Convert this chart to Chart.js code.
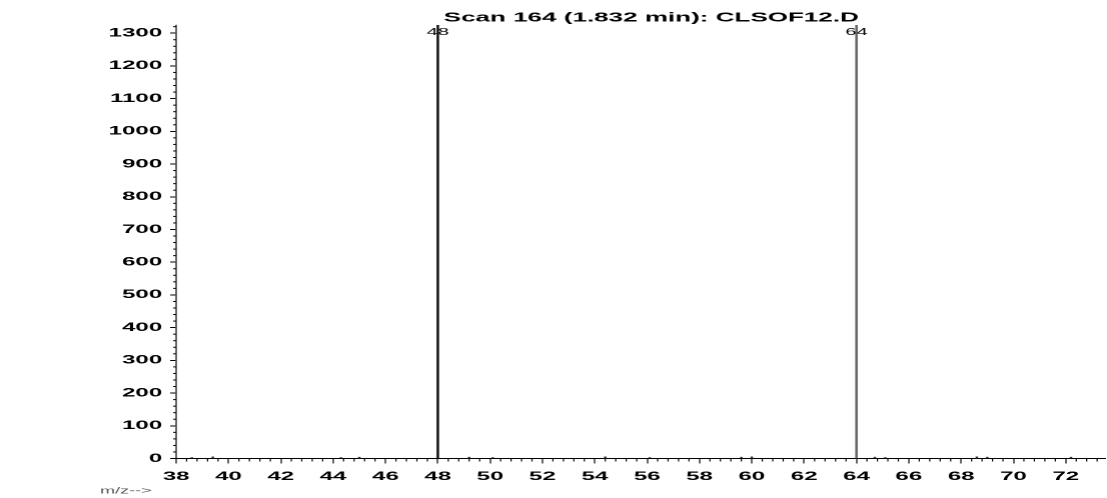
<!DOCTYPE html>
<html>
<head>
<meta charset="utf-8">
<script src="https://cdn.jsdelivr.net/npm/chart.js@4"></script>
<style>
  html, body { margin: 0; padding: 0; background: #fff; overflow: hidden; }
  /* the scanned original is stretched sideways, so draw at half width and stretch 2x */
  #wrap { position: absolute; left: 0; top: 0; width: 553.5px; height: 498px;
          transform: scaleX(2); transform-origin: 0 0; }
</style>
</head>
<body>
<div id="wrap"><canvas id="spectrum"></canvas></div>
<script>
// Scan 164 (1.832 min): CLSOF12.D
const chartTitle = 'Scan 164 (1.832 min): CLSOF12.D';
const mz        = [38.6, 39.4, 44.3, 45.0, 48, 49.2, 50.1, 54.4, 56.1, 59.6, 60.0, 64, 64.7, 65.1, 68.6, 69.0, 72.2];
const abundance = [3,    5,    3,    4,    1325, 4,  3,    5,    3,    4,    5,    1325, 4,  3,    5,    4,    4];
const barColors = mz.map((m, i) => abundance[i] > 1000 ? (m === 64 ? '#666' : '#111') : '#333');

const xMin = 38, xMax = 73.5, yMax = 1325;

const fontFam = '"Liberation Sans", Arial, sans-serif';

const extras = {
    id: 'extras',
    afterDraw(chart) {
        const ctx = chart.ctx;
        const xs = chart.scales.x, ys = chart.scales.y;
        const area = chart.chartArea;
        ctx.save();
        ctx.strokeStyle = '#000';

        // minor ticks on x (5 per 2 units)
        ctx.lineWidth = 0.6;
        for (let i = 0; ; i++) {
            const v = xMin + i * 0.4;
            if (v > xMax) break;
            if (i % 5 === 0) continue;
            const px = xs.getPixelForValue(v);
            ctx.beginPath();
            ctx.moveTo(px, area.bottom);
            ctx.lineTo(px, area.bottom + 3);
            ctx.stroke();
        }
        // minor ticks on y (every 20)
        ctx.lineWidth = 1;
        for (let v = 20; v < yMax; v += 20) {
            if (v % 100 === 0) continue;
            const py = ys.getPixelForValue(v);
            ctx.beginPath();
            ctx.moveTo(area.left - 1.5, py);
            ctx.lineTo(area.left, py);
            ctx.stroke();
        }

        // peak labels
        ctx.fillStyle = '#000';
        ctx.font = '10px ' + fontFam;
        ctx.textAlign = 'center';
        ctx.textBaseline = 'middle';
        mz.forEach((m, i) => {
            if (abundance[i] > 1000) {
                ctx.fillText(String(m), xs.getPixelForValue(m), 32);
            }
        });

        // title
        ctx.font = 'bold 13px ' + fontFam;
        ctx.textAlign = 'right';
        ctx.fillText(chartTitle, 429, 18);

        // axis caption
        ctx.fillStyle = '#555';
        ctx.font = '9px ' + fontFam;
        ctx.textAlign = 'left';
        ctx.fillText('m/z-->', 50, 491);
        ctx.restore();
    }
};

new Chart(document.getElementById('spectrum'), {
    type: 'bar',
    data: {
        datasets: [{
            data: mz.map((m, i) => ({ x: m, y: abundance[i] })),
            backgroundColor: barColors,
            barThickness: 0.6,
            grouped: false
        }]
    },
    options: {
        devicePixelRatio: 2,
        responsive: true,
        maintainAspectRatio: false,
        animation: false,
        layout: { padding: { top: 25, right: 1.5, left: 0, bottom: 0 } },
        plugins: { legend: { display: false }, tooltip: { enabled: false } },
        scales: {
            x: {
                type: 'linear',
                offset: false,
                min: xMin,
                max: xMax,
                ticks: {
                    stepSize: 2,
                    includeBounds: false,
                    autoSkip: false,
                    maxRotation: 0,
                    color: '#000',
                    padding: 6,
                    font: { family: fontFam, size: 12, weight: 'bold' }
                },
                grid: { offset: false, drawOnChartArea: false, tickLength: 5, tickColor: '#000', tickWidth: 0.6 },
                border: { color: '#000', width: 1 },
                afterFit: (s) => { s.height = 39.5; }
            },
            y: {
                min: 0,
                max: yMax,
                ticks: {
                    stepSize: 100,
                    includeBounds: false,
                    autoSkip: false,
                    color: '#000',
                    padding: 4,
                    font: { family: fontFam, size: 12, weight: 'bold' },
                    callback: (v) => String(v)
                },
                grid: { drawOnChartArea: false, tickLength: 3, tickColor: '#000', tickWidth: 1 },
                border: { color: '#000', width: 0.6 },
                afterFit: (s) => { s.width = 88; }
            }
        }
    },
    plugins: [extras]
});
</script>
</body>
</html>
